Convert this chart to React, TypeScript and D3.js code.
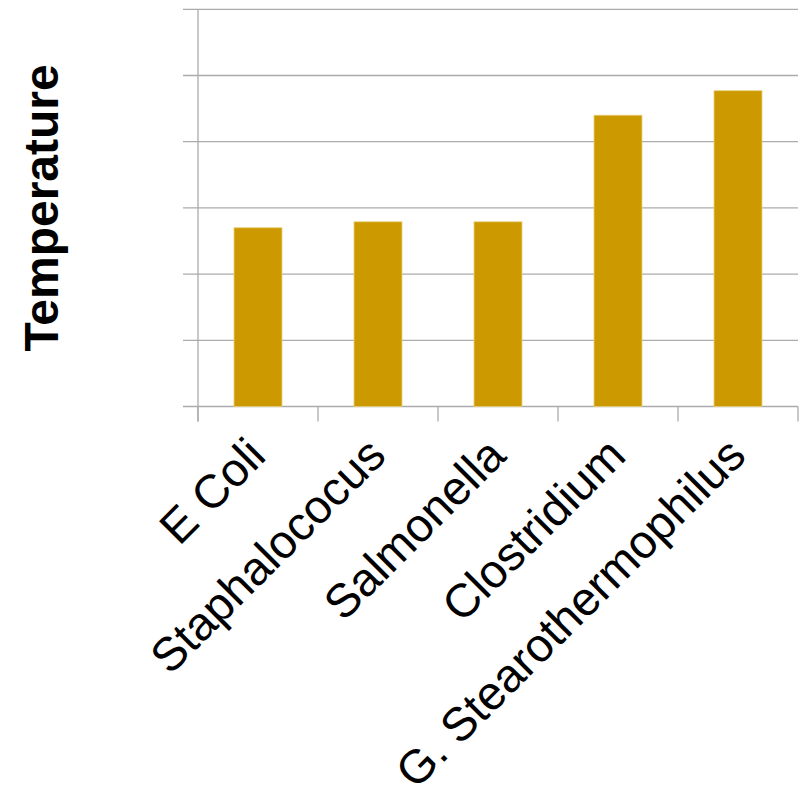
import React from "react";
import * as d3 from "d3";

const categories = ["E Coli", "Staphalococus", "Salmonella", "Clostridium", "G. Stearothermophilus"];
const temperatures = [27, 27.9, 27.9, 44, 47.7];
const yTicks = [0, 10, 20, 30, 40, 50, 60];
const yTitle = "Temperature";

const W = 802;
const H = 797;
const left = 198;
const right = 798;
const top = 9.3;
const bottom = 406.5;

export default function App() {
  const x = d3.scaleBand<string>().domain(categories).range([left, right]).paddingInner(0).paddingOuter(0);
  const y = d3.scaleLinear().domain([0, 60]).range([bottom, top]);
  const bw = x.bandwidth() * 0.4;
  const grid = "#ababab";
  const font = "'Liberation Sans', Arial, sans-serif";
  const edges = [...categories.map((c) => x(c) as number), right];
  return (
    <div style={{ position: "absolute", left: 0, top: 0 }}>
      <svg width={W} height={H} style={{ display: "block", background: "#fff" }}>
        {yTicks.map((t) => (
          <line key={t} x1={left - 15} x2={right} y1={y(t)} y2={y(t)} stroke={grid} strokeWidth={1.3} />
        ))}
        <line x1={left} x2={left} y1={top} y2={bottom + 15} stroke={grid} strokeWidth={1.3} />
        {edges.map((e, i) => (
          <line key={i} x1={e} x2={e} y1={bottom} y2={bottom + 15} stroke={grid} strokeWidth={1.3} />
        ))}
        {categories.map((c, i) => (
          <rect
            key={c}
            x={(x(c) as number) + (x.bandwidth() - bw) / 2}
            y={y(temperatures[i])}
            width={bw}
            height={bottom - y(temperatures[i])}
            fill="#CC9900"
            stroke="#e9cf7a"
            strokeWidth={0.8}
          />
        ))}
        {categories.map((c) => {
          const ax = (x(c) as number) + x.bandwidth() / 2 + 10;
          const ay = 458;
          return (
            <text
              key={c}
              transform={`translate(${ax},${ay}) rotate(-45)`}
              textAnchor="end"
              fontFamily={font}
              fontSize={47}
              fill="#000"
            >
              {c}
            </text>
          );
        })}
        <text
          transform={`translate(58,${(top + bottom) / 2}) rotate(-90)`}
          textAnchor="middle"
          fontFamily={font}
          fontWeight="bold"
          fontSize={48}
          fill="#000"
        >
          {yTitle}
        </text>
      </svg>
    </div>
  );
}
